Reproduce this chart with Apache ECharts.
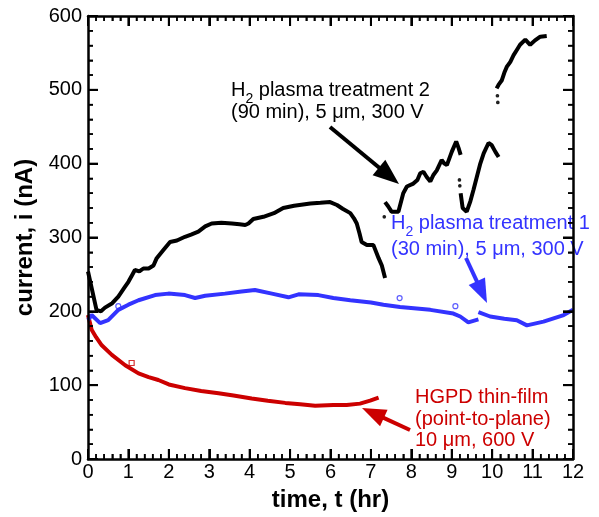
<!DOCTYPE html>
<html>
<head>
<meta charset="utf-8">
<script src="https://cdn.jsdelivr.net/npm/echarts@6/dist/echarts.min.js"></script>
<style>
  html, body { margin: 0; padding: 0; background: #fff; }
  #chart { width: 599px; height: 517px; }
</style>
</head>
<body>
<div id="chart"></div>
<script>
// Current vs. time for three emitter runs.
const FONT = '"Liberation Sans", Arial, Helvetica, sans-serif';
const BLACK = '#000000';
const BLUE = '#3333ff';
const RED = '#cc0000';

// Axis ticks
const xTicks = [0, 1, 2, 3, 4, 5, 6, 7, 8, 9, 10, 11, 12];
const yTicks = [0, 100, 200, 300, 400, 500, 600];

// H2 plasma treatment 2 (black), four recorded stretches
const t2a = [0, 0.21, 0.32, 0.42, 0.6, 0.75, 0.9, 1.0, 1.1, 1.16, 1.27, 1.37, 1.5, 1.62, 1.70, 1.85, 2.03, 2.2, 2.40, 2.55, 2.73, 2.9, 3.06, 3.3, 3.56, 3.75, 3.89, 3.97, 4.09, 4.34, 4.6, 4.83, 5.1, 5.50, 5.75, 5.99, 6.16, 6.3, 6.49, 6.58, 6.65, 6.72, 6.77, 6.90, 7.06, 7.19, 7.27, 7.35];
const i2a = [254, 202, 200, 205, 211, 220, 232, 240, 250, 256, 254, 258, 258, 262, 272, 282, 294, 296, 301, 304, 308, 315, 319, 320, 319, 318, 317, 319, 325, 328, 333, 340, 343, 346, 347, 348, 344, 339, 333, 326, 319, 305, 294, 290, 290, 272, 262, 245];
const t2b = [7.35, 7.43, 7.51, 7.68, 7.80, 7.89, 8.05, 8.15, 8.22, 8.30, 8.38, 8.47, 8.55, 8.63, 8.75, 8.82, 8.88, 9.00, 9.11, 9.17, 9.22];
const i2b = [348, 342, 335, 335, 360, 369, 373, 378, 387, 389, 382, 376, 385, 391, 405, 400, 398, 416, 430, 421, 412];
const t2c = [9.22, 9.27, 9.37, 9.46, 9.54, 9.62, 9.70, 9.79, 9.91, 9.99, 10.08, 10.16];
const i2c = [360, 340, 335, 349, 365, 382, 399, 414, 428, 425, 416, 409];
const t2d = [10.11, 10.16, 10.24, 10.30, 10.36, 10.45, 10.53, 10.61, 10.69, 10.82, 10.94, 11.06, 11.19, 11.35];
const i2d = [502, 507, 513, 523, 531, 538, 547, 554, 561, 568, 561, 567, 572, 573];
// isolated readings of run 2
const t2dots = [7.33, 9.19, 9.20, 10.13, 10.14];
const i2dots = [328, 378, 370, 492, 483];

// H2 plasma treatment 1 (blue), two stretches
const t1a = [0, 0.09, 0.3, 0.5, 0.75, 1.0, 1.25, 1.66, 1.99, 2.4, 2.65, 2.9, 3.39, 3.8, 4.13, 4.55, 4.96, 5.21, 5.7, 6.07, 6.49, 7.0, 7.31, 7.72, 8.47, 9.04, 9.21, 9.41, 9.66];
const i1a = [188, 195, 184, 188, 202, 209, 215, 222, 224, 222, 218, 221, 224, 227, 229, 224, 219, 223, 222, 218, 215, 212, 209, 206, 202, 197, 193, 185, 189];
const t1b = [9.66, 9.95, 10.3, 10.61, 10.86, 11.27, 11.77, 12.0];
const i1b = [199, 193, 190, 188, 181, 186, 195, 202];
const t1dots = [0.75, 7.71, 9.09];
const i1dots = [207, 218, 207];

// HGPD thin-film, point-to-plane (red)
const t0 = [0, 0.09, 0.2, 0.34, 0.59, 0.92, 1.25, 1.5, 1.74, 2.0, 2.40, 2.8, 3.23, 3.6, 4.05, 4.45, 4.88, 5.25, 5.62, 6.07, 6.4, 6.73, 6.98, 7.19];
const i0 = [195, 175, 165, 154, 141, 127, 116, 111, 107, 101, 96, 92, 89, 86, 82, 79, 76, 74, 72, 73, 73, 75, 79, 83];
const t0dots = [1.08];
const i0dots = [130];

const zip = (t, v) => t.map((x, k) => [x, v[k]]);

function lineSeries(t, v, color) {
  return {
    type: 'line', data: zip(t, v), showSymbol: false, symbol: 'none',
    lineStyle: { color: color, width: 4 }
  };
}
function dotSeries(t, v, color, symbol, size, filled) {
  return {
    type: 'scatter', data: zip(t, v), symbol: symbol, symbolSize: size,
    itemStyle: { color: filled ? color : '#fff', borderColor: color, borderWidth: 1.2 }
  };
}

const chart = echarts.init(document.getElementById('chart'));

const GRID = { left: 88, right: 26, top: 16, bottom: 58 };

function axisParts() {
  return {
    zlevel: 1,
    axisLine: { show: true, onZero: false, lineStyle: { color: BLACK, width: 2.5 } },
    axisTick: { show: true, inside: true, length: 10, lineStyle: { color: BLACK, width: 2 } },
    minorTick: { show: true, splitNumber: 5, length: 5, lineStyle: { color: BLACK, width: 1.5 } },
    splitLine: { show: false },
    minorSplitLine: { show: false }
  };
}

function xAx(pos, labels) {
  return Object.assign({
    type: 'value', position: pos, min: xTicks[0], max: xTicks[xTicks.length - 1], interval: 1,
    axisLabel: { show: labels, fontSize: 20, color: BLACK, fontFamily: FONT, margin: 3 },
    name: labels ? 'time, t (hr)' : '', nameLocation: 'middle', nameGap: 29,
    nameTextStyle: { fontSize: 24, fontWeight: 'bold', color: BLACK, fontFamily: FONT }
  }, axisParts());
}
function yAx(pos, labels) {
  return Object.assign({
    type: 'value', position: pos, min: yTicks[0], max: yTicks[yTicks.length - 1], interval: 100,
    axisLabel: { show: labels, fontSize: 20, color: BLACK, fontFamily: FONT, margin: 6 },
    name: labels ? 'current, i (nA)' : '', nameLocation: 'middle', nameGap: 49,
    nameTextStyle: { fontSize: 24, fontWeight: 'bold', color: BLACK, fontFamily: FONT }
  }, axisParts());
}

// text measuring for the subscripted labels
const measureCtx = document.createElement('canvas').getContext('2d');
function textWidth(str, size) {
  measureCtx.font = size + 'px ' + FONT;
  return measureCtx.measureText(str).width;
}

// one line of annotation text; parts are [text, isSubscript]
function textLine(x, y, parts, color, size) {
  const out = [];
  let cx = x;
  parts.forEach(([s, sub]) => {
    const fs = sub ? Math.round(size * 0.68) : size;
    out.push({
      type: 'text', x: cx, y: sub ? y + size * 0.45 : y, z: 10, silent: true,
      style: { text: s, fill: color, font: fs + 'px ' + FONT, textAlign: 'left', textVerticalAlign: 'middle' }
    });
    cx += textWidth(s, fs);
  });
  return out;
}

function arrow(x1, y1, x2, y2, color, headLen, headW, width) {
  const dx = x2 - x1, dy = y2 - y1, L = Math.hypot(dx, dy);
  const ux = dx / L, uy = dy / L, px = -uy, py = ux;
  const bx = x2 - ux * headLen, by = y2 - uy * headLen;
  return [
    { type: 'line', z: 10, silent: true, shape: { x1: x1, y1: y1, x2: bx + ux * 2, y2: by + uy * 2 },
      style: { stroke: color, lineWidth: width } },
    { type: 'polygon', z: 10, silent: true,
      shape: { points: [[x2, y2], [bx + px * headW / 2, by + py * headW / 2], [bx - px * headW / 2, by - py * headW / 2]] },
      style: { fill: color } }
  ];
}

chart.setOption({
  animation: false,
  grid: GRID,
  xAxis: [xAx('bottom', true), xAx('top', false)],
  yAxis: [yAx('left', true), yAx('right', false)],
  series: [
    lineSeries(t0, i0, RED),
    dotSeries(t0dots, i0dots, RED, 'rect', 5, false),
    lineSeries(t1a, i1a, BLUE),
    lineSeries(t1b, i1b, BLUE),
    dotSeries(t1dots, i1dots, BLUE, 'circle', 5, false),
    lineSeries(t2a, i2a, BLACK),
    lineSeries(t2b, i2b, BLACK),
    lineSeries(t2c, i2c, BLACK),
    lineSeries(t2d, i2d, BLACK),
    dotSeries(t2dots, i2dots, BLACK, 'circle', 2.5, true)
  ]
});

// Inward tick marks on all four sides, placed through the axes' own scales.
function frameTicks() {
  const W = chart.getWidth(), H = chart.getHeight();
  const x0 = xTicks[0], x1 = xTicks[xTicks.length - 1];
  const y0 = yTicks[0], y1 = yTicks[yTicks.length - 1];
  const px = v => {
    const p = Number(chart.convertToPixel({ xAxisIndex: 0 }, v));
    return isFinite(p) ? p : GRID.left + (v - x0) / (x1 - x0) * (W - GRID.left - GRID.right);
  };
  const py = v => {
    const p = Number(chart.convertToPixel({ yAxisIndex: 0 }, v));
    return isFinite(p) ? p : (H - GRID.bottom) - (v - y0) / (y1 - y0) * (H - GRID.top - GRID.bottom);
  };
  const left = px(x0), right = px(x1), bottom = py(y0), top = py(y1);
  const out = [];
  const seg = (a, b, c, d, w) => out.push({ type: 'line', silent: true, zlevel: 1, z: 100,
    shape: { x1: a, y1: b, x2: c, y2: d }, style: { stroke: BLACK, lineWidth: w } });
  const withMinors = (ticks) => {
    const list = [];
    ticks.forEach((v, k) => {
      list.push([v, true]);
      if (k < ticks.length - 1) for (let m = 1; m < 5; m++) list.push([v + (ticks[k + 1] - v) * m / 5, false]);
    });
    return list;
  };
  withMinors(xTicks).forEach(([v, major]) => {
    const x = px(v), len = major ? 10 : 5, w = major ? 2 : 1.5;
    seg(x, bottom, x, bottom - len, w);
    seg(x, top, x, top + len, w);
  });
  withMinors(yTicks).forEach(([v, major]) => {
    const y = py(v), len = major ? 10 : 5, w = major ? 2 : 1.5;
    seg(left, y, left + len, y, w);
    seg(right, y, right - len, y, w);
  });
  return out;
}

const S = 20;
chart.setOption({
  graphic: [].concat(
    frameTicks(),
    textLine(231, 90, [['H', false], ['2', true], [' plasma treatment 2', false]], BLACK, S),
    textLine(231, 112, [['(90 min), 5 \u03bcm, 300 V', false]], BLACK, S),
    textLine(391, 223, [['H', false], ['2', true], [' plasma treatment 1', false]], BLUE, S),
    textLine(391, 249, [['(30 min), 5 \u03bcm, 300 V', false]], BLUE, S),
    textLine(415, 397, [['HGPD thin-film', false]], RED, S),
    textLine(415, 419, [['(point-to-plane)', false]], RED, S),
    textLine(415, 440, [['10 \u03bcm, 600 V', false]], RED, S),
    arrow(330, 127, 399, 184, BLACK, 26, 20, 4),
    arrow(466, 258, 487, 303, BLUE, 24, 18, 4),
    arrow(410, 430, 362, 408, RED, 24, 18, 4)
  )
});
</script>
</body>
</html>
